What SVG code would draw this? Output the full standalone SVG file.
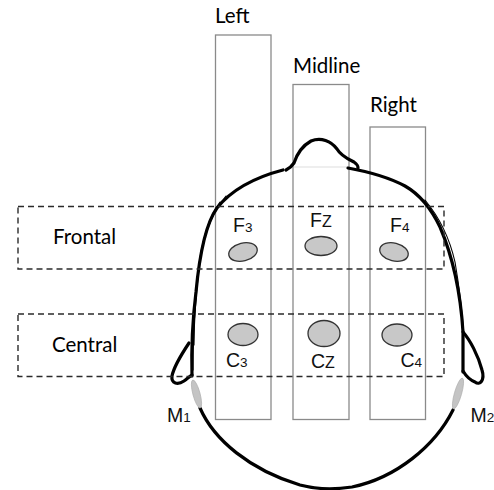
<svg xmlns="http://www.w3.org/2000/svg" width="494" height="490" viewBox="0 0 494 490">
  <style>
    .col { fill: none; stroke: #8a8a8a; stroke-width: 1.3; }
    .region { fill: none; stroke: #2a2a2a; stroke-width: 1.4; stroke-dasharray: 6 4; }
    .head { fill: none; stroke: #000; stroke-width: 3.2; stroke-linecap: round; stroke-linejoin: round; }
    .sketch { fill: none; stroke: #000; stroke-width: 1.1; stroke-linecap: round; }
    .elec { fill: #c8c8c8; stroke: #333; stroke-width: 1.3; }
    .mast { fill: #c4c4c4; stroke: #aaa; stroke-width: 0.6; }
    .lbl { font-family: Lato, "Open Sans", sans-serif; font-size: 20.5px; fill: #000; }
    .site { font-family: "Liberation Sans", Arial, sans-serif; font-size: 19.5px; fill: #111; }
    .sub { font-size: 13.5px; }
  </style>

  <!-- hemisphere columns -->
  <g id="col-left">
    <rect class="col" x="215.5" y="35" width="55.5" height="384.5"/>
    <text class="lbl" x="215" y="23">Left</text>
  </g>
  <g id="col-midline">
    <rect class="col" x="293" y="84.5" width="56" height="335"/>
    <text class="lbl" x="293" y="73">Midline</text>
  </g>
  <g id="col-right">
    <rect class="col" x="370" y="127" width="55.5" height="292.5"/>
    <text class="lbl" x="370" y="112">Right</text>
  </g>

  <!-- head outline -->
  <g id="head">
    <!-- nose -->
    <path class="head" d="M286,170 C290,168 292,166 294,163 C297,154 302,146 311,141 C321,137 331,141 337,149 C341,156 348,159 354,162 C357,164 358,167 358,168"/>
    <path d="M294,167 L348,167" stroke="#ddd" stroke-width="1.2" fill="none"/>
    <!-- left side down to the ear -->
    <path class="head" d="M283,170 C260,176 233,188 217,208 C204,226 199,260 196,292 C193,316 191,340 192,376"/>
    <path class="sketch" d="M226,196 C212,212 203,236 199,268 C196,295 194,320 194,345"/>
    <path class="sketch" d="M220,202 C206,220 200,250 197,280 C195,305 193,330 193,370"/>
    <!-- left ear -->
    <path class="head" d="M189,343 C183,352 174,366 172,376 C171,384 178,385 184,381 C188,378 190,376 192,375"/>
    <!-- back of head -->
    <path class="head" d="M200,408 C214,440 250,470 300,485 C315,489 332,490 352,487 C396,478 435,446 453,410"/>
    <!-- right side from nose to the ear -->
    <path class="head" d="M348,168 C370,172 390,178 405,186 C419,194 430,206 440,227 C455,262 461,300 463,332 L463,372"/>
    <path class="sketch" d="M425,200 C440,218 450,240 455,262 C459,285 462,310 464,335"/>
    <!-- right ear -->
    <path class="head" d="M463,332 C470,340 478,355 482,370 C485,380 480,386 475,382 C470,380 466,376 463,371"/>
  </g>

  <!-- regions -->
  <g id="frontal">
    <rect class="region" x="18" y="206.5" width="426" height="62.5"/>
    <text class="lbl" x="53" y="244">Frontal</text>
  </g>
  <g id="central">
    <rect class="region" x="18" y="314" width="426" height="62.5"/>
    <text class="lbl" x="52" y="352">Central</text>
  </g>

  <!-- electrode sites -->
  <g id="F3">
    <ellipse class="elec" cx="243" cy="252" rx="14.5" ry="9" transform="rotate(-14 243 252)"/>
    <text class="site" x="233" y="232">F<tspan class="sub">3</tspan></text>
  </g>
  <g id="Fz">
    <ellipse class="elec" cx="321" cy="246" rx="16" ry="9.5"/>
    <text class="site" x="310" y="227">F<tspan font-size="16">Z</tspan></text>
  </g>
  <g id="F4">
    <ellipse class="elec" cx="394" cy="252" rx="14.5" ry="9" transform="rotate(14 394 252)"/>
    <text class="site" x="390" y="232">F<tspan class="sub">4</tspan></text>
  </g>
  <g id="C3">
    <ellipse class="elec" cx="243" cy="334.5" rx="15" ry="11"/>
    <text class="site" x="226" y="367">C<tspan class="sub">3</tspan></text>
  </g>
  <g id="Cz">
    <ellipse class="elec" cx="324" cy="333.5" rx="16" ry="13"/>
    <text class="site" x="311" y="368">C<tspan font-size="16">Z</tspan></text>
  </g>
  <g id="C4">
    <ellipse class="elec" cx="397" cy="335" rx="15" ry="11"/>
    <text class="site" x="400.5" y="367">C<tspan class="sub">4</tspan></text>
  </g>
  <g id="M1">
    <ellipse class="mast" cx="196.5" cy="394" rx="3.6" ry="14.5" transform="rotate(-15 196.5 394)"/>
    <text class="site" x="167" y="422" font-size="20">M<tspan class="sub">1</tspan></text>
  </g>
  <g id="M2">
    <ellipse class="mast" cx="458" cy="393.5" rx="3.6" ry="16" transform="rotate(16 458 393.5)"/>
    <text class="site" x="470.5" y="422" font-size="20">M<tspan class="sub">2</tspan></text>
  </g>
</svg>
